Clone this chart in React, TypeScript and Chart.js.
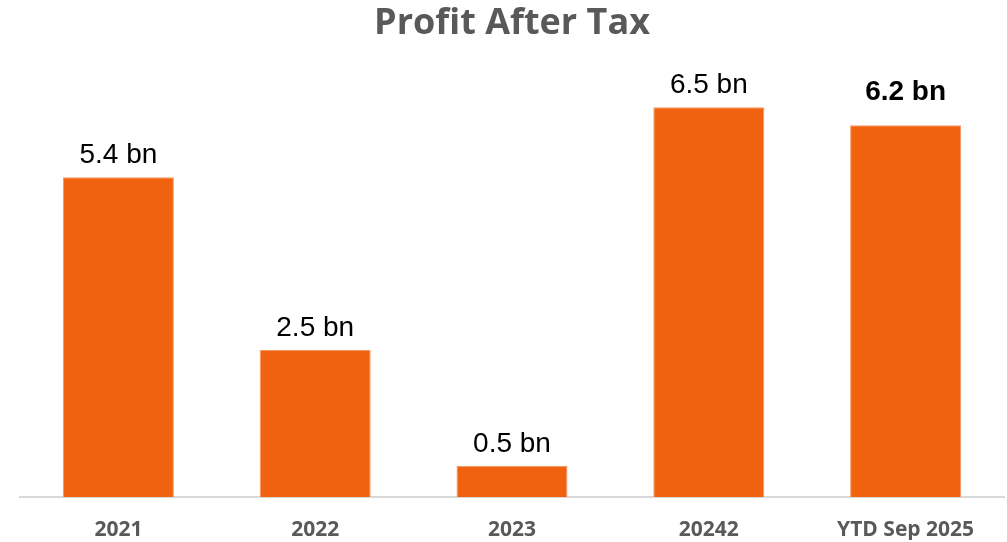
import React, { useEffect, useRef } from "react";
import { Chart, registerables } from "chart.js";

Chart.register(...registerables);

const categories = ["2021", "2022", "2023", "20242", "YTD Sep 2025"];
const profitValues = [5.33, 2.45, 0.52, 6.5, 6.2];
const valueLabels = ["5.4 bn", "2.5 bn", "0.5 bn", "6.5 bn", "6.2 bn"];
const labelBold = [false, false, false, false, true];

const labelPlugin = {
  id: "valueLabels",
  afterDatasetsDraw(chart: any) {
    const ctx = chart.ctx;
    const meta = chart.getDatasetMeta(0);
    ctx.save();
    ctx.fillStyle = "#000000";
    ctx.textAlign = "center";
    ctx.textBaseline = "alphabetic";
    meta.data.forEach((bar: any, i: number) => {
      const bold = labelBold[i];
      ctx.font = `${bold ? "bold " : ""}28px "Liberation Sans", Arial, sans-serif`;
      ctx.fillText(valueLabels[i], bar.x, bar.y - (bold ? 25 : 14));
    });
    ctx.restore();
  },
};

export default function App() {
  const ref = useRef<HTMLCanvasElement | null>(null);
  useEffect(() => {
    if (!ref.current) return;
    const chart = new Chart(ref.current, {
      type: "bar",
      data: {
        labels: categories,
        datasets: [
          {
            data: profitValues,
            backgroundColor: "#F0620F",
            borderColor: "#F49A66",
            borderWidth: 1,
            barPercentage: 0.564,
            categoryPercentage: 1,
          },
        ],
      },
      options: {
        responsive: false,
        animation: false,
        layout: { padding: { left: 20, right: 3, top: 0, bottom: 2 } },
        plugins: {
          legend: { display: false },
          tooltip: { enabled: false },
          title: {
            display: true,
            text: "Profit After Tax",
            color: "#595959",
            font: { family: "'Open Sans', sans-serif", size: 36, weight: "bold" },
            padding: { top: 2, bottom: 32 },
          },
        },
        scales: {
          x: {
            grid: { display: false, drawTicks: false },
            border: { display: true, color: "#D9D9D9", width: 2 },
            ticks: {
              color: "#595959",
              padding: 20,
              font: { family: "'Open Sans', sans-serif", size: 21, weight: "bold" },
              maxRotation: 0,
              autoSkip: false,
            },
            afterFit: (scale: any) => {
              scale.height = 43;
            },
          },
          y: { display: false, min: 0, max: 7 },
        },
      },
      plugins: [labelPlugin],
    });
    return () => chart.destroy();
  }, []);
  return (
    <div style={{ position: "fixed", left: 0, top: 0, width: 1007, height: 542, background: "#fff" }}>
      <canvas ref={ref} width={1007} height={542} />
    </div>
  );
}
